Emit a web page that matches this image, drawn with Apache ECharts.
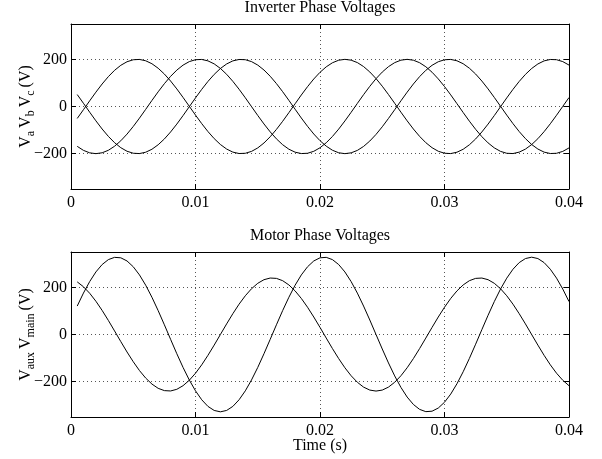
<!DOCTYPE html>
<html>
<head>
<meta charset="utf-8">
<script src="https://cdn.jsdelivr.net/npm/echarts@6/dist/echarts.min.js"></script>
<style>
  html, body { margin: 0; padding: 0; background: #fff; }
  #chart { width: 602px; height: 459px; }
</style>
</head>
<body>
<div id="chart"></div>
<script>
// Sample times (s)
const timeS = [0.0005, 0.001, 0.0015, 0.002, 0.0025, 0.003, 0.0035, 0.004, 0.0045, 0.005,
  0.0055, 0.006, 0.0065, 0.007, 0.0075, 0.008, 0.0085, 0.009, 0.0095, 0.010,
  0.0105, 0.011, 0.0115, 0.012, 0.0125, 0.013, 0.0135, 0.014, 0.0145, 0.015,
  0.0155, 0.016, 0.0165, 0.017, 0.0175, 0.018, 0.0185, 0.019, 0.0195, 0.020,
  0.0205, 0.021, 0.0215, 0.022, 0.0225, 0.023, 0.0235, 0.024, 0.0245, 0.025,
  0.0255, 0.026, 0.0265, 0.027, 0.0275, 0.028, 0.0285, 0.029, 0.0295, 0.030,
  0.0305, 0.031, 0.0315, 0.032, 0.0325, 0.033, 0.0335, 0.034, 0.0345, 0.035,
  0.0355, 0.036, 0.0365, 0.037, 0.0375, 0.038, 0.0385, 0.039, 0.0395, 0.040];

// Inverter phase voltages (V)
const vA = [-50.7, -13.6, 24.1, 60.8, 95.5, 126.7, 153.5, 174.8, 189.9, 198.3,
  199.7, 194.0, 181.4, 162.4, 137.7, 108.0, 74.6, 38.5, 1.0, -36.5,
  -72.7, -106.3, -136.2, -161.2, -180.5, -193.5, -199.5, -198.5, -190.5, -175.7,
  -154.8, -128.3, -97.2, -62.8, -26.1, 11.6, 48.8, 84.2, 116.7, 145.1,
  168.3, 185.6, 196.3, 200.0, 196.6, 186.3, 169.4, 146.5, 118.4, 86.1,
  50.7, 13.6, -24.1, -60.8, -95.5, -126.7, -153.5, -174.8, -189.9, -198.3,
  -199.7, -194.0, -181.4, -162.4, -137.7, -108.0, -74.6, -38.5, -1.0, 36.5,
  72.7, 106.3, 136.2, 161.2, 180.5, 193.5, 199.5, 198.5, 190.5, 175.7];
const vB = [50.7, 13.6, -24.1, -60.8, -95.5, -126.7, -153.5, -174.8, -189.9, -198.3,
  -199.7, -194.0, -181.4, -162.4, -137.7, -108.0, -74.6, -38.5, -1.0, 36.5,
  72.7, 106.3, 136.2, 161.2, 180.5, 193.5, 199.5, 198.5, 190.5, 175.7,
  154.8, 128.3, 97.2, 62.8, 26.1, -11.6, -48.8, -84.2, -116.7, -145.1,
  -168.3, -185.6, -196.3, -200.0, -196.6, -186.3, -169.4, -146.5, -118.4, -86.1,
  -50.7, -13.6, 24.1, 60.8, 95.5, 126.7, 153.5, 174.8, 189.9, 198.3,
  199.7, 194.0, 181.4, 162.4, 137.7, 108.0, 74.6, 38.5, 1.0, -36.5,
  -72.7, -106.3, -136.2, -161.2, -180.5, -193.5, -199.5, -198.5, -190.5, -175.7];
const vC = [-169.1, -186.1, -196.6, -200.0, -196.4, -185.8, -168.6, -145.4, -117.1, -84.7,
  -49.3, -12.1, 25.6, 62.3, 96.8, 127.9, 154.4, 175.5, 190.4, 198.5,
  199.6, 193.6, 180.8, 161.5, 136.6, 106.7, 73.2, 37.0, -0.5, -38.0,
  -74.1, -107.6, -137.3, -162.1, -181.2, -193.8, -199.6, -198.4, -190.1, -175.0,
  -153.8, -127.1, -95.9, -61.3, -24.6, 13.1, 50.2, 85.6, 118.0, 146.1,
  169.1, 186.1, 196.6, 200.0, 196.4, 185.8, 168.6, 145.4, 117.1, 84.7,
  49.3, 12.1, -25.6, -62.3, -96.8, -127.9, -154.4, -175.5, -190.4, -198.5,
  -199.6, -193.6, -180.8, -161.5, -136.6, -106.7, -73.2, -37.0, 0.5, 38.0];

// Motor phase voltages (V)
const vMain = [120.7, 175.7, 224.5, 265.4, 296.8, 317.7, 327.3, 325.4, 312.0, 287.4,
  252.7, 209.1, 158.0, 101.4, 41.1, -20.6, -81.6, -139.7, -192.8, -239.1,
  -276.9, -305.0, -322.2, -328.0, -322.2, -305.0, -276.9, -239.1, -192.8, -139.7,
  -81.6, -20.6, 41.1, 101.4, 158.0, 209.1, 252.7, 287.4, 312.0, 325.4,
  327.3, 317.7, 296.8, 265.4, 224.5, 175.7, 120.7, 61.5, 0.0, -61.5,
  -120.7, -175.7, -224.5, -265.4, -296.8, -317.7, -327.3, -325.4, -312.0, -287.4,
  -252.7, -209.1, -158.0, -101.4, -41.1, 20.6, 81.6, 139.7, 192.8, 239.1,
  276.9, 305.0, 322.2, 328.0, 322.2, 305.0, 276.9, 239.1, 192.8, 139.7];
const vAux = [223.2, 202.6, 175.0, 141.1, 102.2, 59.7, 15.1, -30.1, -74.2, -115.6,
  -153.0, -184.9, -210.3, -228.3, -238.1, -239.5, -232.5, -217.2, -194.2, -164.3,
  -128.6, -88.3, -45.0, 0.0, 45.0, 88.3, 128.6, 164.3, 194.2, 217.2,
  232.5, 239.5, 238.1, 228.3, 210.3, 184.9, 153.0, 115.6, 74.2, 30.1,
  -15.1, -59.7, -102.2, -141.1, -175.0, -202.6, -223.2, -235.8, -240.0, -235.8,
  -223.2, -202.6, -175.0, -141.1, -102.2, -59.7, -15.1, 30.1, 74.2, 115.6,
  153.0, 184.9, 210.3, 228.3, 238.1, 239.5, 232.5, 217.2, 194.2, 164.3,
  128.6, 88.3, 45.0, 0.0, -45.0, -88.3, -128.6, -164.3, -194.2, -217.2];

// Axis ticks
const xTicks = [0, 0.01, 0.02, 0.03, 0.04];
const yTicks = [-200, 0, 200];

const FONT = '"Liberation Serif", "DejaVu Serif", serif';

function pairs(vals) { return timeS.map((t, i) => [t, vals[i]]); }

const gridLine = { show: true, lineStyle: { color: '#555', width: 1, type: [1, 3] } };
const axisLine = { show: true, onZero: false, lineStyle: { color: '#000', width: 1 } };
const tick = { show: true, inside: true, length: 5, lineStyle: { color: '#000', width: 1 } };
const labelFont = { fontFamily: FONT, fontSize: 16, color: '#000' };

function xAxes(gridIndex, withName) {
  const bottom = {
    type: 'value', gridIndex, position: 'bottom',
    min: xTicks[0], max: xTicks[xTicks.length - 1], interval: 0.01,
    axisLine, axisTick: tick,
    axisLabel: Object.assign({ margin: 6, formatter: v => String(Number(v.toFixed(2))) }, labelFont),
    splitLine: gridLine
  };
  if (withName) {
    Object.assign(bottom, {
      name: 'Time (s)', nameLocation: 'middle', nameGap: 21, nameMoveOverlap: false,
      nameTextStyle: labelFont
    });
  }
  const top = {
    type: 'value', gridIndex, position: 'top',
    min: xTicks[0], max: xTicks[xTicks.length - 1], interval: 0.01,
    axisLine, axisTick: tick, axisLabel: { show: false }, splitLine: { show: false }
  };
  return [bottom, top];
}

function yAxes(gridIndex, name) {
  const left = {
    type: 'value', gridIndex, position: 'left', min: -350, max: 350,
    axisLine,
    axisTick: Object.assign({ customValues: yTicks }, tick),
    axisLabel: Object.assign({
      customValues: yTicks, margin: 4,
      formatter: v => v < 0 ? '\u2212' + Math.abs(v) : String(v)
    }, labelFont),
    splitLine: Object.assign({ customValues: yTicks }, gridLine),
    name, nameLocation: 'middle', nameRotate: 90, nameGap: 37, nameMoveOverlap: false,
    nameTextStyle: {
      fontFamily: FONT, color: '#000',
      rich: {
        m: { fontFamily: FONT, fontSize: 16, lineHeight: 16, verticalAlign: 'top', color: '#000' },
        s: { fontFamily: FONT, fontSize: 12, lineHeight: 12, verticalAlign: 'top', padding: [7, 0, 0, 0], color: '#000' }
      }
    }
  };
  const right = {
    type: 'value', gridIndex, position: 'right', min: -350, max: 350,
    axisLine,
    axisTick: Object.assign({ customValues: yTicks }, tick),
    axisLabel: { show: false },
    splitLine: { show: false }
  };
  return [left, right];
}

function line(xi, yi, vals, name) {
  return {
    type: 'line', name, xAxisIndex: xi, yAxisIndex: yi,
    data: pairs(vals), showSymbol: false, symbol: 'none', smooth: false,
    lineStyle: { color: '#000', width: 1 }, itemStyle: { color: '#000' },
    silent: true
  };
}

const chart = echarts.init(document.getElementById('chart'), null, { renderer: 'canvas' });
chart.setOption({
  animation: false,
  backgroundColor: '#fff',
  title: [
    { text: 'Inverter Phase Voltages', left: 320, top: 0, textAlign: 'center', padding: 0,
      textStyle: { fontFamily: FONT, fontSize: 16, fontWeight: 'normal', color: '#000' } },
    { text: 'Motor Phase Voltages', left: 320, top: 228, textAlign: 'center', padding: 0,
      textStyle: { fontFamily: FONT, fontSize: 16, fontWeight: 'normal', color: '#000' } }
  ],
  grid: [
    { left: 71, top: 24, width: 498, height: 165, outerBoundsMode: 'none' },
    { left: 71, top: 252, width: 498, height: 165, outerBoundsMode: 'none' }
  ],
  xAxis: [...xAxes(0, false), ...xAxes(1, true)],
  yAxis: [
    ...yAxes(0, '{m|V}{s|a} {m|V}{s|b} {m|V}{s|c} {m|(V)}'),
    ...yAxes(1, '{m|V}{s|aux} {m|V}{s|main} {m|(V)}')
  ],
  series: [
    line(0, 0, vA, 'Va'),
    line(0, 0, vB, 'Vb'),
    line(0, 0, vC, 'Vc'),
    line(2, 2, vMain, 'Vmain'),
    line(2, 2, vAux, 'Vaux')
  ]
});
</script>
</body>
</html>
